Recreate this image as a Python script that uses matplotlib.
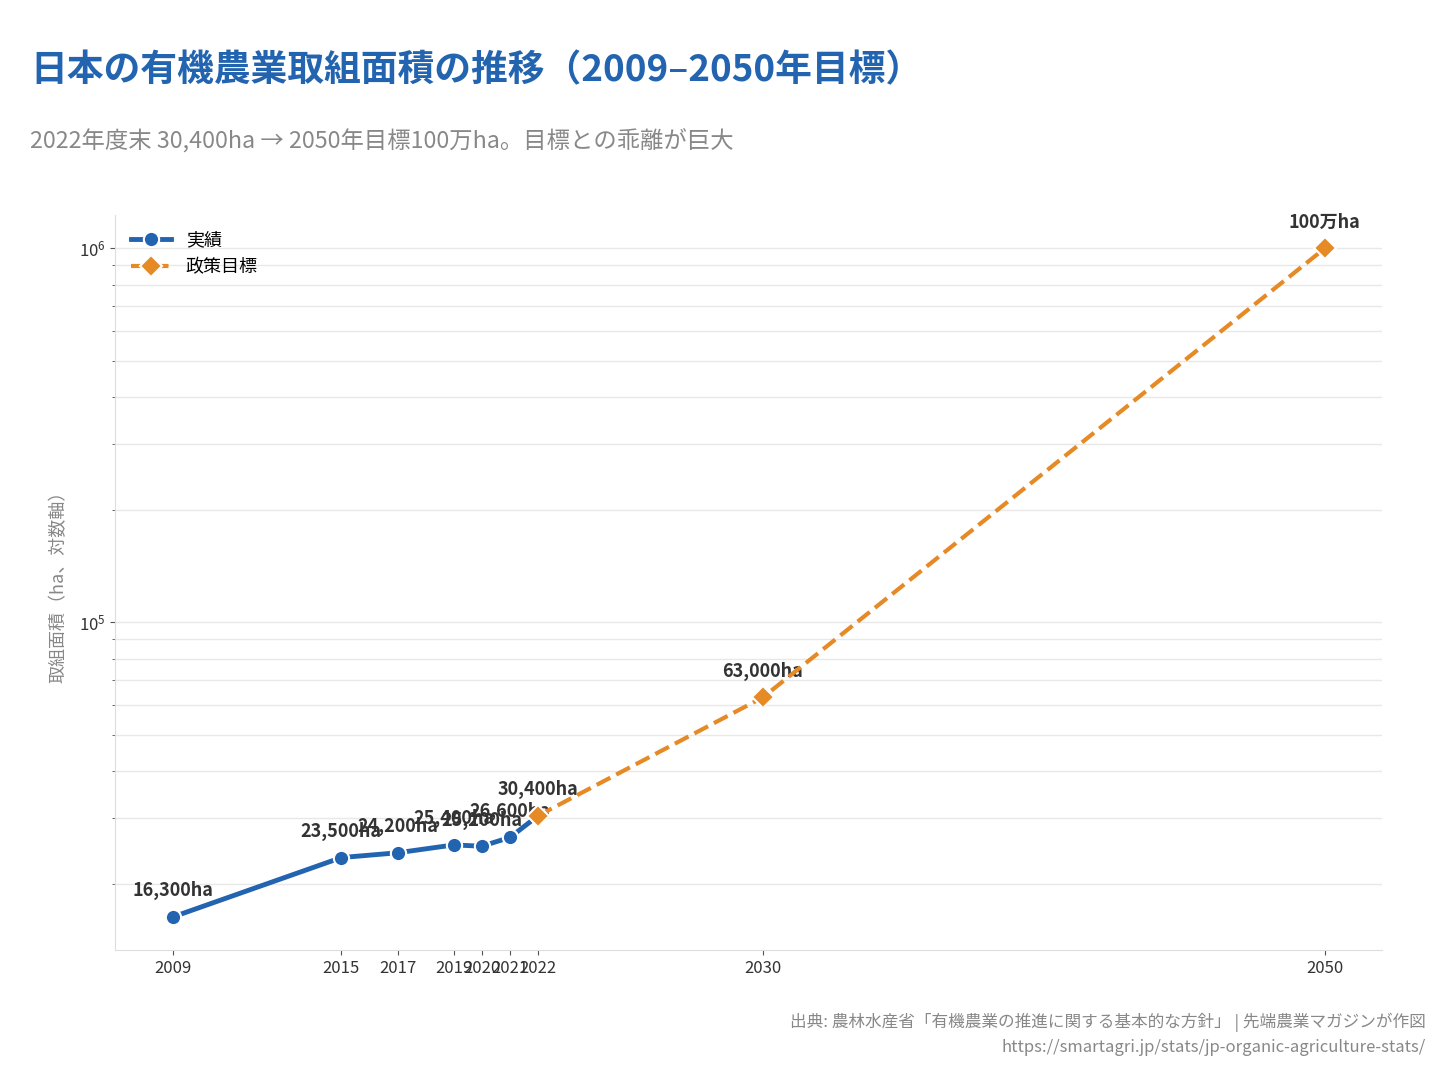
import matplotlib
matplotlib.use("Agg")
import matplotlib.pyplot as plt
from matplotlib.ticker import LogLocator, NullFormatter

plt.rcParams['font.family'] = ['Noto Sans CJK JP', 'DejaVu Sans']

# 実績 (actual)
actual_years = [2009, 2015, 2017, 2019, 2020, 2021, 2022]
actual_ha = [16300, 23500, 24200, 25400, 25200, 26600, 30400]
actual_labels = ["16,300ha", "23,500ha", "24,200ha", "25,400ha", "25,200ha", "26,600ha", "30,400ha"]

# 政策目標 (policy target)
target_years = [2022, 2030, 2050]
target_ha = [30400, 63000, 1000000]
target_labels = ["", "63,000ha", "100万ha"]

tick_years = [2009, 2015, 2017, 2019, 2020, 2021, 2022, 2030, 2050]

blue = "#2364b0"
orange = "#e68a26"

fig = plt.figure(figsize=(14.4, 10.8), dpi=100)
ax = fig.add_axes([0.08, 0.12, 0.88, 0.681])

ax.plot(actual_years, actual_ha, color=blue, lw=3.5, marker="o", ms=11,
        mec="white", mew=1.5, label="実績", zorder=3)
ax.plot(target_years, target_ha, color=orange, lw=3, ls="--", marker="D", ms=11,
        mec="white", mew=1.5, label="政策目標", zorder=4)

for x, y, t in zip(actual_years, actual_ha, actual_labels):
    ax.annotate(t, (x, y), xytext=(0, 12), textcoords="offset points",
                ha="center", va="bottom", fontsize=13, fontweight="bold", color="#333333")
for x, y, t in zip(target_years, target_ha, target_labels):
    if t:
        ax.annotate(t, (x, y), xytext=(0, 12), textcoords="offset points",
                    ha="center", va="bottom", fontsize=13, fontweight="bold", color="#333333")

ax.set_yscale("log")
ax.yaxis.set_minor_locator(LogLocator(base=10, subs=range(2, 10)))
ax.yaxis.set_minor_formatter(NullFormatter())
ax.grid(True, axis="y", which="both", color="#e8e8e8", lw=1)
ax.set_axisbelow(True)

ax.set_xticks(tick_years)
ax.set_xticklabels([str(y) for y in tick_years])
ax.tick_params(axis="both", labelsize=12, colors="#333333")
ax.tick_params(axis="both", which="both", color="#555555")
for s in ["top", "right"]:
    ax.spines[s].set_visible(False)
for s in ["left", "bottom"]:
    ax.spines[s].set_color("#dddddd")

ax.set_ylabel("取組面積（ha、対数軸）", fontsize=13, color="#888888", labelpad=8)

ax.legend(loc="upper left", frameon=False, fontsize=13, handlelength=2.2)

fig.text(0.021, 0.934, "日本の有機農業取組面積の推移（2009–2050年目標）",
         fontsize=26.5, fontweight="bold", color="#2364b0", ha="left", va="center")
fig.text(0.021, 0.870, "2022年度末 30,400ha → 2050年目標100万ha。目標との乖離が巨大",
         fontsize=16.8, color="#888888", ha="left", va="center")
fig.text(0.99, 0.053, "出典: 農林水産省「有機農業の推進に関する基本的な方針」 | 先端農業マガジンが作図",
         fontsize=12, color="#888888", ha="right", va="center")
fig.text(0.99, 0.030, "https://smartagri.jp/stats/jp-organic-agriculture-stats/",
         fontsize=12, color="#888888", ha="right", va="center")

fig.savefig("out.png", dpi=100)
